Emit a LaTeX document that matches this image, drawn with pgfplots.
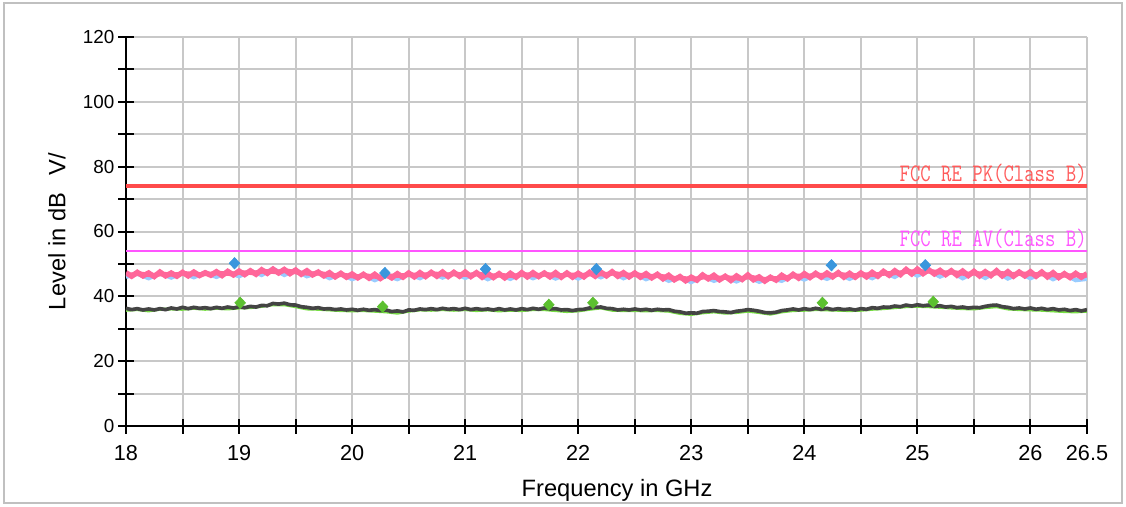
\documentclass[border=0pt]{standalone}
\usepackage{pgfplots}
\pgfplotsset{compat=1.18}
\usepackage{fontspec}
\setmainfont{Liberation Sans}
\definecolor{pkred}{HTML}{FF4B4B}
\definecolor{pktext}{HTML}{FF5A5A}
\definecolor{avmag}{HTML}{FF55FF}
\definecolor{tracepink}{HTML}{FF6699}
\definecolor{tracelblue}{HTML}{99CCFF}
\definecolor{tracegray}{HTML}{444444}
\definecolor{tracegreen}{HTML}{77DD44}
\definecolor{mkblue}{HTML}{3A96DD}
\definecolor{mkgreen}{HTML}{5CC030}
\definecolor{gridgray}{HTML}{C8C8C8}
\definecolor{framegray}{HTML}{C0C0C0}
\begin{document}
\begin{tikzpicture}
\draw[framegray, line width=1.2pt] (2.4pt,1.8pt) rectangle (673.2pt,301.8pt);
\begin{axis}[
  at={(75.6pt,48pt)}, anchor=south west,
  scale only axis, width=576.6pt, height=233.4pt,
  xmin=18, xmax=26.5, ymin=0, ymax=120,
  axis x line=bottom, axis y line=left,
  axis line style={-, line width=1.2pt, black},
  xtick={18,19,20,21,22,23,24,25,26,26.5},
  minor xtick={18.5,19.5,20.5,21.5,22.5,23.5,24.5,25.5},
  ytick={0,20,40,60,80,100,120},
  minor ytick={10,30,50,70,90,110},
  grid=both,
  major grid style={gridgray, line width=1.2pt},
  minor grid style={gridgray, line width=1.2pt},
  tick align=center, major tick length=9pt, minor tick length=9pt,
  every tick/.style={black, line width=1.2pt},
  /pgf/number format/assume math mode=true,
  xticklabel style={font=\fontsize{13}{15}\selectfont, yshift=-3.5pt},
  yticklabel style={font=\fontsize{11.3}{13}\selectfont, xshift=1pt},
  xlabel={Frequency in GHz},
  ylabel={Level in dB\hspace{0.75em}V/},
  every axis x label/.style={at={(axis description cs:0.511,-0.1645)}, anchor=center, font=\fontsize{14.2}{16}\selectfont},
  every axis y label/.style={at={(axis description cs:-0.0718,0.5)}, rotate=90, anchor=center, font=\fontsize{14.2}{16}\selectfont},
  clip=true,
]
% light blue peak trace (underneath)
\addplot[tracelblue, line width=2.6pt] coordinates {
(18.0,46.0)(18.1,47.0)(18.2,45.6)(18.3,47.1)(18.4,45.8)(18.5,47.2)(18.6,45.9)(18.7,47.3)(18.8,46.0)(18.9,47.5)
(19.0,46.2)(19.1,47.8)(19.2,46.6)(19.3,48.5)(19.4,46.6)(19.5,48.1)(19.6,46.2)(19.7,47.4)(19.8,45.6)(19.9,46.9)
(20.0,45.3)(20.1,46.6)(20.2,45.0)(20.3,46.5)(20.4,45.3)(20.5,46.9)(20.6,45.6)(20.7,47.3)(20.8,45.8)(20.9,47.2)
(21.0,45.7)(21.1,47.1)(21.2,45.3)(21.3,46.8)(21.4,45.4)(21.5,47.1)(21.6,45.6)(21.7,47.0)(21.8,45.5)(21.9,47.0)
(22.0,45.5)(22.1,47.3)(22.2,45.9)(22.3,47.4)(22.4,45.6)(22.5,47.0)(22.6,45.3)(22.7,46.6)(22.8,44.8)(22.9,45.9)
(23.0,44.4)(23.1,46.3)(23.2,44.8)(23.3,45.9)(23.4,44.6)(23.5,46.2)(23.6,44.5)(23.7,45.6)(23.8,44.8)(23.9,46.5)
(24.0,45.2)(24.1,46.8)(24.2,45.4)(24.3,47.0)(24.4,45.4)(24.5,47.0)(24.6,45.6)(24.7,47.4)(24.8,46.0)(24.9,48.1)
(25.0,46.4)(25.1,48.0)(25.2,46.1)(25.3,47.6)(25.4,45.6)(25.5,47.4)(25.6,45.7)(25.7,47.6)(25.8,45.5)(25.9,47.2)
(26.0,45.6)(26.1,47.2)(26.2,45.3)(26.3,46.8)(26.4,45.0)(26.5,45.4)
};
% pink peak trace, interleaved samples
\addplot[tracepink, line width=2.6pt] coordinates {
(18.025,46.6)(18.125,47.0)(18.225,46.5)(18.325,46.9)(18.425,46.7)(18.525,47.1)(18.625,46.8)(18.725,46.9)(18.825,47.2)(18.925,46.9)
(19.025,47.4)(19.125,47.2)(19.225,47.8)(19.325,47.5)(19.425,47.9)(19.525,47.3)(19.625,47.0)(19.725,47.1)(19.825,46.5)(19.925,46.6)
(20.025,46.1)(20.125,46.4)(20.225,46.0)(20.325,46.3)(20.425,46.4)(20.525,46.7)(20.625,46.6)(20.725,47.0)(20.825,46.7)(20.925,46.9)
(21.025,46.6)(21.125,46.9)(21.225,46.4)(21.325,46.5)(21.425,46.3)(21.525,46.8)(21.625,46.5)(21.725,46.8)(21.825,46.4)(21.925,46.7)
(22.025,46.5)(22.125,46.9)(22.225,46.8)(22.325,47.1)(22.425,46.6)(22.525,46.7)(22.625,46.2)(22.725,46.3)(22.825,45.7)(22.925,45.6)
(23.025,45.3)(23.125,46.0)(23.225,45.7)(23.325,45.8)(23.425,45.5)(23.525,46.0)(23.625,45.3)(23.725,45.5)(23.825,45.8)(23.925,46.3)
(24.025,46.3)(24.125,46.6)(24.225,46.5)(24.325,46.8)(24.425,46.4)(24.525,46.7)(24.625,46.7)(24.725,47.1)(24.825,47.2)(24.925,47.7)
(25.025,47.6)(25.125,47.7)(25.225,47.3)(25.325,47.4)(25.425,46.9)(25.525,47.1)(25.625,46.9)(25.725,47.2)(25.825,46.8)(25.925,47.0)
(26.025,46.8)(26.125,46.8)(26.225,46.5)(26.325,46.4)(26.425,46.5)(26.500,46.4)
};
% pink peak trace
\addplot[tracepink, line width=3.2pt] coordinates {
(18.00,47.3)(18.05,46.2)(18.10,47.4)(18.15,46.3)(18.20,47.2)(18.25,46.1)(18.30,47.5)(18.35,46.3)(18.40,47.2)(18.45,46.2)
(18.50,47.4)(18.55,46.3)(18.60,47.5)(18.65,46.4)(18.70,47.3)(18.75,46.5)(18.80,47.6)(18.85,46.4)(18.90,47.7)(18.95,46.6)
(19.00,47.8)(19.05,46.7)(19.10,47.9)(19.15,46.8)(19.20,48.2)(19.25,47.1)(19.30,48.4)(19.35,47.2)(19.40,48.3)(19.45,47.0)
(19.50,48.1)(19.55,46.8)(19.60,47.9)(19.65,46.6)(19.70,47.5)(19.75,46.3)(19.80,47.3)(19.85,46.0)(19.90,47.1)(19.95,45.9)
(20.00,46.9)(20.05,45.7)(20.10,46.8)(20.15,45.6)(20.20,46.8)(20.25,45.5)(20.30,46.7)(20.35,45.7)(20.40,47.0)(20.45,45.9)
(20.50,47.2)(20.55,46.0)(20.60,47.3)(20.65,46.1)(20.70,47.4)(20.75,46.2)(20.80,47.5)(20.85,46.1)(20.90,47.4)(20.95,46.2)
(21.00,47.5)(21.05,46.1)(21.10,47.3)(21.15,45.9)(21.20,47.1)(21.25,45.8)(21.30,47.0)(21.35,45.7)(21.40,47.1)(21.45,45.9)
(21.50,47.3)(21.55,46.0)(21.60,47.3)(21.65,46.1)(21.70,47.2)(21.75,46.0)(21.80,47.3)(21.85,45.9)(21.90,47.2)(21.95,45.9)
(22.00,47.1)(22.05,46.0)(22.10,47.4)(22.15,46.2)(22.20,47.5)(22.25,46.3)(22.30,47.6)(22.35,46.2)(22.40,47.3)(22.45,46.0)
(22.50,47.2)(22.55,45.9)(22.60,47.0)(22.65,45.7)(22.70,46.8)(22.75,45.4)(22.80,46.5)(22.85,45.1)(22.90,46.1)(22.95,44.8)
(23.00,45.9)(23.05,45.0)(23.10,46.6)(23.15,45.4)(23.20,46.5)(23.25,45.1)(23.30,46.2)(23.35,44.9)(23.40,46.3)(23.45,45.2)
(23.50,46.6)(23.55,45.1)(23.60,46.0)(23.65,44.7)(23.70,45.9)(23.75,45.0)(23.80,46.5)(23.85,45.4)(23.90,46.8)(23.95,45.6)
(24.00,47.0)(24.05,45.8)(24.10,47.1)(24.15,45.9)(24.20,47.2)(24.25,46.0)(24.30,47.3)(24.35,45.9)(24.40,47.1)(24.45,45.9)
(24.50,47.2)(24.55,46.0)(24.60,47.4)(24.65,46.2)(24.70,47.7)(24.75,46.5)(24.80,47.9)(24.85,46.7)(24.90,48.3)(24.95,46.9)
(25.00,48.4)(25.05,47.0)(25.10,48.2)(25.15,46.9)(25.20,48.0)(25.25,46.7)(25.30,47.9)(25.35,46.5)(25.40,47.8)(25.45,46.4)
(25.50,47.7)(25.55,46.3)(25.60,47.6)(25.65,46.4)(25.70,47.9)(25.75,46.3)(25.80,47.6)(25.85,46.2)(25.90,47.5)(25.95,46.3)
(26.00,47.6)(26.05,46.2)(26.10,47.5)(26.15,46.0)(26.20,47.3)(26.25,45.8)(26.30,47.0)(26.35,45.8)(26.40,47.1)(26.45,45.9)
(26.50,47.0)
};
% green average trace (underneath)
\addplot[tracegreen, line width=1.8pt] coordinates {
(18.0,35.7)(18.1,35.9)(18.2,35.5)(18.3,36.0)(18.4,36.1)(18.5,36.0)(18.6,36.3)(18.7,36.0)(18.8,36.3)(18.9,36.1)
(19.0,36.4)(19.1,36.5)(19.2,36.9)(19.3,37.4)(19.4,37.4)(19.5,36.8)(19.6,36.1)(19.7,36.0)(19.8,35.8)(19.9,35.6)
(20.0,35.5)(20.1,35.6)(20.2,35.4)(20.3,35.2)(20.4,34.8)(20.5,35.4)(20.6,35.8)(20.7,35.7)(20.8,35.9)(20.9,35.7)
(21.0,35.9)(21.1,35.6)(21.2,35.8)(21.3,35.5)(21.4,35.7)(21.5,35.6)(21.6,35.9)(21.7,35.9)(21.8,35.6)(21.9,35.3)
(22.0,35.5)(22.1,36.0)(22.2,36.4)(22.3,35.7)(22.4,35.6)(22.5,35.6)(22.6,35.5)(22.7,35.6)(22.8,35.4)(22.9,34.7)
(23.0,34.4)(23.1,34.9)(23.2,35.2)(23.3,34.8)(23.4,35.0)(23.5,35.4)(23.6,35.0)(23.7,34.5)(23.8,35.2)(23.9,35.6)
(24.0,35.7)(24.1,35.9)(24.2,35.8)(24.3,35.7)(24.4,35.6)(24.5,35.7)(24.6,36.0)(24.7,36.2)(24.8,36.5)(24.9,36.8)
(25.0,36.9)(25.1,36.8)(25.2,36.6)(25.3,36.4)(25.4,36.2)(25.5,36.1)(25.6,36.5)(25.7,36.8)(25.8,36.1)(25.9,35.9)
(26.0,35.8)(26.1,35.7)(26.2,35.5)(26.3,35.3)(26.4,35.2)(26.5,35.4)
};
% dark gray average trace
\addplot[tracegray, line width=2.2pt] coordinates {
(18.00,36.3)(18.05,35.9)(18.10,36.2)(18.15,35.8)(18.20,36.1)(18.25,35.8)(18.30,36.2)(18.35,35.9)(18.40,36.4)(18.45,36.1)
(18.50,36.6)(18.55,36.2)(18.60,36.6)(18.65,36.3)(18.70,36.5)(18.75,36.2)(18.80,36.6)(18.85,36.3)(18.90,36.7)(18.95,36.4)
(19.00,36.8)(19.05,36.5)(19.10,36.9)(19.15,36.7)(19.20,37.2)(19.25,37.1)(19.30,37.8)(19.35,37.6)(19.40,37.9)(19.45,37.4)
(19.50,37.3)(19.55,36.8)(19.60,36.6)(19.65,36.3)(19.70,36.5)(19.75,36.1)(19.80,36.2)(19.85,35.9)(19.90,36.1)(19.95,35.8)
(20.00,36.0)(20.05,35.7)(20.10,36.0)(20.15,35.7)(20.20,35.9)(20.25,35.6)(20.30,35.8)(20.35,35.3)(20.40,35.5)(20.45,35.2)
(20.50,35.8)(20.55,35.7)(20.60,36.1)(20.65,35.9)(20.70,36.2)(20.75,35.9)(20.80,36.3)(20.85,36.0)(20.90,36.2)(20.95,35.9)
(21.00,36.3)(21.05,35.9)(21.10,36.2)(21.15,35.9)(21.20,36.1)(21.25,35.8)(21.30,36.2)(21.35,35.8)(21.40,36.1)(21.45,35.8)
(21.50,36.2)(21.55,35.9)(21.60,36.3)(21.65,36.0)(21.70,36.4)(21.75,36.1)(21.80,36.2)(21.85,35.8)(21.90,35.9)(21.95,35.6)
(22.00,35.9)(22.05,36.0)(22.10,36.4)(22.15,36.6)(22.20,36.7)(22.25,36.3)(22.30,36.2)(22.35,35.8)(22.40,36.0)(22.45,35.8)
(22.50,36.1)(22.55,35.8)(22.60,36.0)(22.65,35.7)(22.70,36.0)(22.75,35.8)(22.80,35.9)(22.85,35.4)(22.90,35.2)(22.95,34.8)
(23.00,34.9)(23.05,34.8)(23.10,35.3)(23.15,35.4)(23.20,35.6)(23.25,35.3)(23.30,35.2)(23.35,35.0)(23.40,35.4)(23.45,35.6)
(23.50,35.9)(23.55,35.7)(23.60,35.4)(23.65,35.0)(23.70,34.9)(23.75,35.1)(23.80,35.6)(23.85,35.8)(23.90,36.1)(23.95,35.8)
(24.00,36.2)(24.05,35.9)(24.10,36.3)(24.15,36.0)(24.20,36.3)(24.25,35.9)(24.30,36.2)(24.35,35.9)(24.40,36.1)(24.45,35.8)
(24.50,36.2)(24.55,36.0)(24.60,36.5)(24.65,36.3)(24.70,36.7)(24.75,36.6)(24.80,37.0)(24.85,36.8)(24.90,37.3)(24.95,37.0)
(25.00,37.4)(25.05,37.1)(25.10,37.3)(25.15,36.9)(25.20,37.1)(25.25,36.7)(25.30,36.9)(25.35,36.5)(25.40,36.7)(25.45,36.4)
(25.50,36.6)(25.55,36.5)(25.60,36.9)(25.65,37.2)(25.70,37.3)(25.75,36.8)(25.80,36.6)(25.85,36.2)(25.90,36.4)(25.95,36.1)
(26.00,36.4)(26.05,36.0)(26.10,36.3)(26.15,35.9)(26.20,36.2)(26.25,35.8)(26.30,36.0)(26.35,35.6)(26.40,35.9)(26.45,35.5)
(26.50,35.9)
};
% limit lines
\addplot[pkred, line width=2.4pt] coordinates {(18,74) (26.5,74)};
\addplot[avmag, line width=1.2pt] coordinates {(18,54) (26.5,54)};
% peak markers
\addplot[only marks, mark=diamond*, mark size=3.4pt, mark options={fill=mkblue, draw=mkblue, xscale=1.25}] coordinates {
(18.96,50.2)(20.29,47.2)(21.18,48.4)(22.16,48.4)(24.24,49.6)(25.07,49.6)};
% average markers
\addplot[only marks, mark=diamond*, mark size=3.4pt, mark options={fill=mkgreen, draw=mkgreen, xscale=1.25}] coordinates {
(19.01,38.0)(20.27,36.8)(21.74,37.4)(22.13,38.0)(24.16,38.0)(25.14,38.3)};
\node[anchor=base east, inner sep=0pt, text=pktext, yshift=2.6pt] at (axis cs:26.5,74)
  {\scalebox{1}[1.25]{\fontsize{12.1}{14}\selectfont\ttfamily FCC RE PK(Class B)}};
\node[anchor=base east, inner sep=0pt, text=avmag, yshift=2.4pt] at (axis cs:26.5,54)
  {\scalebox{1}[1.25]{\fontsize{12.1}{14}\selectfont\ttfamily FCC RE AV(Class B)}};
\end{axis}
\pgfresetboundingbox
\useasboundingbox (0,0) rectangle (675.6pt,303.6pt);
\end{tikzpicture}
\end{document}
